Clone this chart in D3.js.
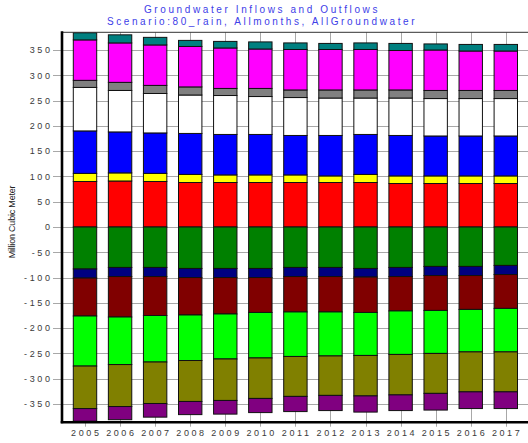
<!DOCTYPE html>
<html lang="en">
<head>
  <meta charset="UTF-8">
  <title>Groundwater Inflows and Outflows</title>
  <script src="https://d3js.org/d3.v7.min.js"></script>
  <style>
    body {
      margin: 0;
      background-color: #fff;
      font-family: "Liberation Sans", Arial, sans-serif;
    }
    .title {
      font-size: 10px;
      letter-spacing: 2.6px;
      fill: #4040e8;
    }
    .tick-label {
      font-size: 9px;
      letter-spacing: 2.6px;
      fill: #3a3a3a;
    }
    .grid line {
      stroke: #a8a8a8;
      stroke-width: 1px;
    }
    .bar rect {
      stroke: #111;
      stroke-width: 1px;
    }
  </style>
</head>
<body>

<div id="chart"></div>

<script>
  const width = 528;
  const height = 443;

  const years = ["2005", "2006", "2007", "2008", "2009", "2010", "2011",
                 "2012", "2013", "2014", "2015", "2016", "2017"];

  // inflows (stacked upward from 0)
  const red     = [90, 91, 90, 88, 88, 88, 88, 88, 88, 86, 86, 86, 86];
  const yellow  = [16, 16, 16, 16, 15, 15, 15, 13, 16, 15, 15, 15, 15];
  const blue    = [84, 81, 80, 81, 80, 80, 78, 80, 79, 80, 79, 79, 79];
  const white   = [86, 82, 78, 76, 77, 75, 75, 74, 72, 74, 74, 74, 74];
  const gray    = [14, 16, 16, 16, 14, 16, 15, 16, 16, 16, 16, 16, 16];
  const magenta = [80, 78, 80, 80, 80, 78, 80, 80, 80, 78, 80, 78, 78];
  const teal    = [14, 16, 15, 12, 13, 14, 13, 12, 13, 14, 12, 13, 13];

  // outflows (stacked downward from 0)
  const green   = [-83, -80, -80, -82, -82, -82, -80, -80, -82, -80, -78, -78, -76];
  const navy    = [-18, -18, -18, -18, -18, -18, -18, -18, -17, -18, -18, -18, -18];
  const maroon  = [-75, -80, -77, -74, -72, -69, -70, -70, -70, -68, -69, -67, -67];
  const lime    = [-99, -94, -92, -90, -89, -90, -88, -87, -85, -86, -85, -84, -86];
  const olive   = [-84, -83, -82, -81, -82, -80, -79, -78, -80, -80, -79, -79, -79];
  const purple  = [-25, -26, -27, -26, -27, -28, -30, -30, -32, -31, -33, -33, -33];

  const yTicks = [350, 300, 250, 200, 150, 100, 50, 0, -50, -100, -150, -200, -250, -300, -350];

  const series = [
    { key: "red", values: red, color: "#ff0000" },
    { key: "yellow", values: yellow, color: "#ffff00" },
    { key: "blue", values: blue, color: "#0000ff" },
    { key: "white", values: white, color: "#ffffff" },
    { key: "gray", values: gray, color: "#808080" },
    { key: "magenta", values: magenta, color: "#ff00ff" },
    { key: "teal", values: teal, color: "#008080" },
    { key: "green", values: green, color: "#008000" },
    { key: "navy", values: navy, color: "#000080" },
    { key: "maroon", values: maroon, color: "#800000" },
    { key: "lime", values: lime, color: "#00ff00" },
    { key: "olive", values: olive, color: "#808000" },
    { key: "purple", values: purple, color: "#800080" }
  ];

  const table = years.map((y, i) => {
    const row = { year: y };
    series.forEach(s => { row[s.key] = s.values[i]; });
    return row;
  });

  const stacked = d3.stack()
    .keys(series.map(s => s.key))
    .offset(d3.stackOffsetDiverging)(table);

  const plot = { left: 62, right: 530, top: 32.3, bottom: 421.7 };
  const barWidth = 23.4;

  const x = d3.scalePoint()
    .domain(years)
    .range([85, 505.8]);

  const y = d3.scaleLinear()
    .domain([-385, 385])
    .range([plot.bottom, plot.top]);

  const svg = d3.select("#chart")
    .append("svg")
    .attr("width", width)
    .attr("height", height);

  // titles
  svg.append("text")
    .attr("class", "title")
    .attr("x", 262)
    .attr("y", 13)
    .attr("text-anchor", "middle")
    .text("Groundwater Inflows and Outflows");

  svg.append("text")
    .attr("class", "title")
    .attr("x", 262)
    .attr("y", 25)
    .attr("text-anchor", "middle")
    .text("Scenario:80_rain, Allmonths, AllGroundwater");

  // grid
  const grid = svg.append("g").attr("class", "grid");
  grid.selectAll(".hgrid")
    .data(yTicks)
    .enter()
    .append("line")
    .attr("x1", 53)
    .attr("x2", plot.right)
    .attr("y1", d => Math.round(y(d)) + 0.5)
    .attr("y2", d => Math.round(y(d)) + 0.5);

  grid.selectAll(".vgrid")
    .data(years)
    .enter()
    .append("line")
    .attr("x1", d => Math.round(x(d)) + 0.5)
    .attr("x2", d => Math.round(x(d)) + 0.5)
    .attr("y1", plot.top)
    .attr("y2", plot.bottom + 5);

  // bars
  svg.append("g")
    .attr("class", "bar")
    .selectAll("g")
    .data(stacked)
    .enter()
    .append("g")
    .attr("fill", (d, i) => series[i].color)
    .selectAll("rect")
    .data(d => d)
    .enter()
    .append("rect")
    .attr("x", d => x(d.data.year) - barWidth / 2)
    .attr("width", barWidth)
    .attr("y", d => y(Math.max(d[0], d[1])))
    .attr("height", d => Math.abs(y(d[0]) - y(d[1])));

  // frame
  svg.append("line")
    .attr("x1", plot.left).attr("x2", plot.right)
    .attr("y1", plot.top).attr("y2", plot.top)
    .attr("stroke", "#333").attr("stroke-width", 1);

  svg.append("line")
    .attr("x1", plot.left).attr("x2", plot.left)
    .attr("y1", plot.top - 1).attr("y2", plot.bottom + 1.5)
    .attr("stroke", "#000").attr("stroke-width", 2.6);

  svg.append("line")
    .attr("x1", plot.left - 1.3).attr("x2", plot.right)
    .attr("y1", plot.bottom + 0.5).attr("y2", plot.bottom + 0.5)
    .attr("stroke", "#000").attr("stroke-width", 2.6);

  // y tick labels
  svg.append("g")
    .selectAll("text")
    .data(yTicks)
    .enter()
    .append("text")
    .attr("class", "tick-label")
    .attr("x", 52.5)
    .attr("y", d => y(d) + 3.3)
    .attr("text-anchor", "end")
    .text(d => d < 0 ? "-" + Math.abs(d) : d);

  // x tick labels
  svg.append("g")
    .selectAll("text")
    .data(years)
    .enter()
    .append("text")
    .attr("class", "tick-label")
    .attr("x", d => x(d) + 1.3)
    .attr("y", 436)
    .attr("text-anchor", "middle")
    .text(d => d);

  // y axis title
  svg.append("text")
    .attr("transform", "translate(15,222) rotate(-90)")
    .attr("text-anchor", "middle")
    .style("font-size", "9px")
    .style("letter-spacing", "-0.2px")
    .style("fill", "#222")
    .text("Million Cubic Meter");
</script>

</body>
</html>
